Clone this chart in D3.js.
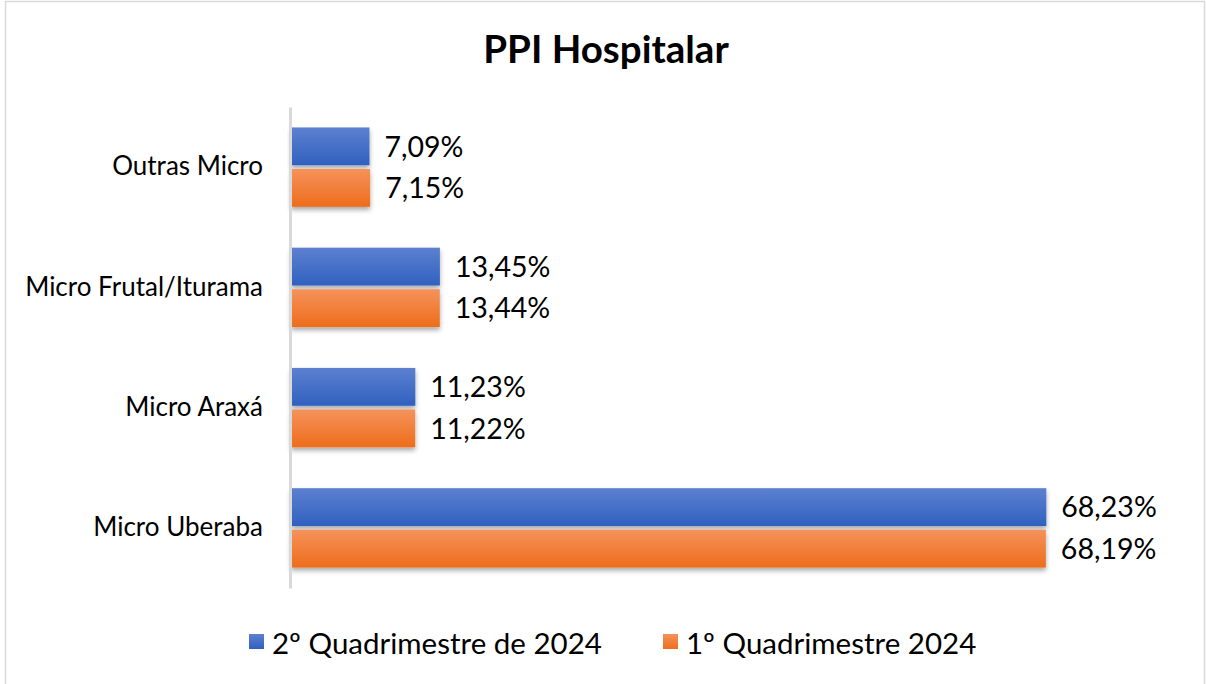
<!DOCTYPE html>
<html><head><meta charset="utf-8">
<script src="https://cdn.jsdelivr.net/npm/d3@7"></script>
<style>body{margin:0;background:#fff}svg{display:block}</style>
</head><body>
<script>
const categories = ["Outras Micro", "Micro Frutal/Iturama", "Micro Araxá", "Micro Uberaba"];
const series = ["2º Quadrimestre de 2024", "1º Quadrimestre 2024"];
const values2Q = [7.09, 13.45, 11.23, 68.23];
const values1Q = [7.15, 13.44, 11.22, 68.19];
const labels2Q = ["7,09%", "13,45%", "11,23%", "68,23%"];
const labels1Q = ["7,15%", "13,44%", "11,22%", "68,19%"];

const W = 1206, H = 684;
const font = "Lato, Calibri, 'Open Sans', sans-serif";
const svg = d3.select("body").append("svg").attr("width", W).attr("height", H);
const defs = svg.append("defs");
function grad(id, c1, c2) {
  const g = defs.append("linearGradient").attr("id", id).attr("x1", 0).attr("y1", 0).attr("x2", 0).attr("y2", 1);
  g.append("stop").attr("offset", "0%").attr("stop-color", c1);
  g.append("stop").attr("offset", "100%").attr("stop-color", c2);
}
grad("gBlue", "#5d80d0", "#2f61bf");
grad("gOrange", "#f5925b", "#ee6d1b");
const f = defs.append("filter").attr("id", "shadow").attr("x", "-5%").attr("y", "-20%").attr("width", "110%").attr("height", "160%");
f.append("feDropShadow").attr("dx", 0).attr("dy", 3).attr("stdDeviation", 2.5).attr("flood-color", "#000").attr("flood-opacity", 0.35);

svg.append("rect").attr("x", 5.5).attr("y", 1.5).attr("width", 1199).attr("height", 690)
  .attr("fill", "#fff").attr("stroke", "#d9d9d9").attr("stroke-width", 1.5);

svg.append("text").attr("x", 606).attr("y", 63).attr("text-anchor", "middle")
  .attr("font-family", font).attr("font-weight", "bold").attr("font-size", 38.5).attr("fill", "#000")
  .text("PPI Hospitalar");

const x0 = 291;
const x = d3.scaleLinear().domain([0, 80]).range([x0, x0 + 80 * 11.07]);
const y = d3.scaleBand().domain(categories).range([107, 588]).paddingInner(0.34).paddingOuter(0.17);
const sub = d3.scaleBand().domain(series).range([0, y.bandwidth()]).paddingInner(0.09);

const data = categories.map((c, i) => ({c, v: [values2Q[i], values1Q[i]], l: [labels2Q[i], labels1Q[i]]}));
const fills = ["url(#gBlue)", "url(#gOrange)"];

const g = svg.append("g");
data.forEach(d => {
  series.forEach((s, j) => {
    const yy = y(d.c) + sub(s);
    g.append("rect").attr("x", x(0)).attr("y", yy).attr("width", x(d.v[j]) - x(0)).attr("height", sub.bandwidth())
      .attr("fill", fills[j]).attr("filter", "url(#shadow)");
    g.append("text").attr("x", x(d.v[j]) + 15).attr("y", yy + sub.bandwidth() / 2).attr("dy", "0.36em")
      .attr("font-family", font).attr("font-size", 28.5).attr("fill", "#000").text(d.l[j]);
  });
});

// category axis
const yAxis = d3.axisLeft(y).tickSize(0).tickPadding(27);
const ag = svg.append("g").attr("transform", `translate(${x0 - 1},0)`).call(yAxis);
ag.select(".domain").attr("stroke", "#d9d9d9").attr("stroke-width", 3);
ag.selectAll("text").attr("font-family", font).attr("font-size", 26).attr("fill", "#000");

// legend
const leg = [{s: series[0], x: 249, fill: fills[0]}, {s: series[1], x: 663, fill: fills[1]}];
leg.forEach(l => {
  svg.append("rect").attr("x", l.x).attr("y", 634).attr("width", 15).attr("height", 15).attr("fill", l.fill);
  svg.append("text").attr("x", l.x + 23).attr("y", 643).attr("dy", "0.36em")
    .attr("font-family", font).attr("font-size", 29.5).attr("fill", "#000").text(l.s);
});
</script>
</body></html>
